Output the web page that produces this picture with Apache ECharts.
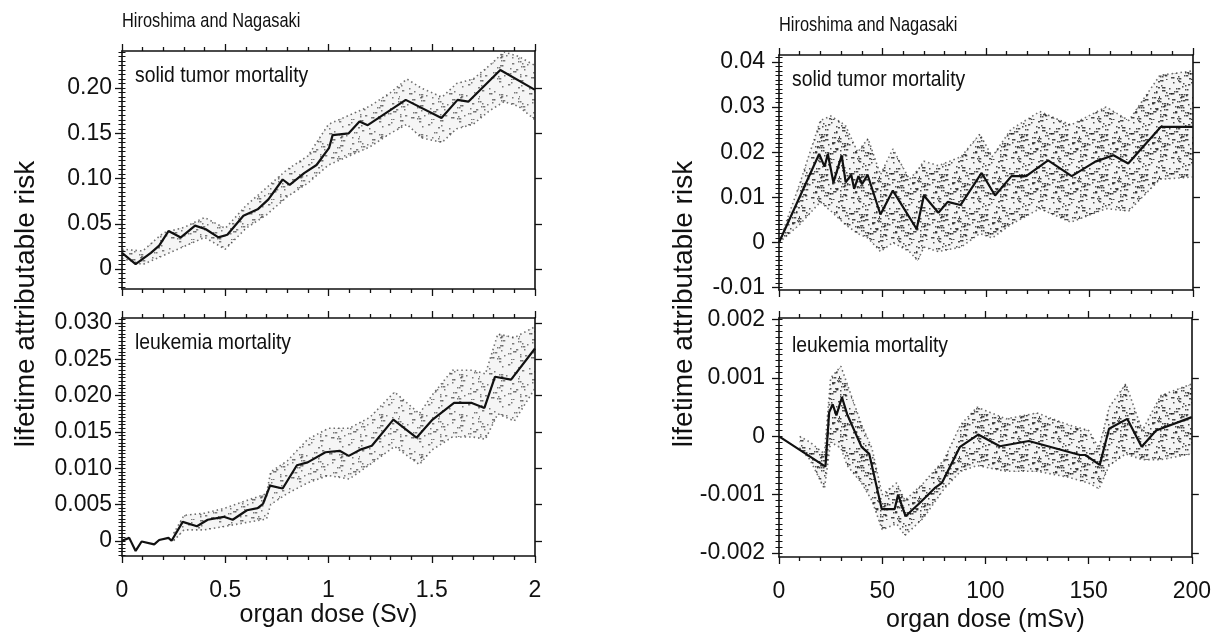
<!DOCTYPE html>
<html>
<head>
<meta charset="utf-8">
<script src="https://cdn.jsdelivr.net/npm/echarts@6/dist/echarts.min.js"></script>
<style>
  html, body { margin: 0; padding: 0; background: #fff; }
  #chart { width: 1214px; height: 638px; }
</style>
</head>
<body>
<div id="chart"></div>
<script>
// ---- values ----
// left column: organ dose in Sv
const svSolidDose = [0, 0.066, 0.14, 0.18, 0.225, 0.285, 0.354, 0.406, 0.467, 0.51, 0.588, 0.657, 0.709, 0.778, 0.812, 0.882, 0.942, 1.003, 1.02, 1.098, 1.15, 1.19, 1.374, 1.547, 1.625, 1.677, 1.832, 2.0];
const svSolidRisk = [0.018, 0.0055, 0.018, 0.026, 0.042, 0.035, 0.048, 0.044, 0.035, 0.038, 0.059, 0.066, 0.077, 0.099, 0.093, 0.106, 0.115, 0.134, 0.148, 0.150, 0.163, 0.159, 0.187, 0.167, 0.187, 0.185, 0.220, 0.198];
const svSolidBandDose = [0, 0.1, 0.2, 0.3, 0.4, 0.5, 0.6, 0.7, 0.8, 0.9, 1.0, 1.1, 1.2, 1.3, 1.38, 1.45, 1.55, 1.62, 1.7, 1.78, 1.85, 1.92, 2.0];
const svSolidUpper = [0.022, 0.02, 0.04, 0.046, 0.057, 0.045, 0.07, 0.09, 0.11, 0.125, 0.16, 0.17, 0.18, 0.195, 0.21, 0.2, 0.19, 0.205, 0.21, 0.225, 0.24, 0.235, 0.225];
const svSolidLower = [0.012, 0.005, 0.015, 0.025, 0.035, 0.022, 0.045, 0.06, 0.08, 0.095, 0.115, 0.125, 0.135, 0.15, 0.16, 0.145, 0.14, 0.155, 0.16, 0.175, 0.185, 0.18, 0.165];

const svLeukDose = [0, 0.035, 0.066, 0.095, 0.156, 0.18, 0.225, 0.24, 0.294, 0.363, 0.415, 0.493, 0.536, 0.605, 0.657, 0.683, 0.717, 0.778, 0.847, 0.899, 0.985, 1.054, 1.098, 1.158, 1.21, 1.314, 1.426, 1.504, 1.608, 1.694, 1.755, 1.806, 1.884, 2.0];
const svLeukRisk = [0, 0.0004, -0.0014, -0.0001, -0.0005, 0.0001, 0.0004, 0.0, 0.0026, 0.002, 0.0029, 0.0033, 0.0029, 0.0042, 0.0045, 0.0051, 0.0076, 0.0072, 0.0104, 0.0108, 0.0122, 0.0124, 0.0117, 0.0126, 0.0131, 0.0167, 0.0142, 0.0167, 0.019, 0.019, 0.0183, 0.0226, 0.0222, 0.0265];
const svLeukBandDose = [0.25, 0.3, 0.4, 0.5, 0.6, 0.7, 0.72, 0.8, 0.9, 1.0, 1.1, 1.2, 1.32, 1.44, 1.5, 1.6, 1.7, 1.76, 1.82, 1.9, 2.0];
const svLeukUpper = [0.001, 0.0035, 0.0038, 0.0045, 0.0055, 0.0065, 0.0095, 0.011, 0.014, 0.0155, 0.0155, 0.017, 0.0205, 0.0175, 0.02, 0.0235, 0.0235, 0.023, 0.0285, 0.028, 0.0295];
const svLeukLower = [0.0, 0.0015, 0.0015, 0.002, 0.0025, 0.003, 0.005, 0.0065, 0.008, 0.009, 0.0085, 0.0105, 0.013, 0.0105, 0.0125, 0.0143, 0.0143, 0.014, 0.0175, 0.0165, 0.021];

// right column: organ dose in mSv
const msvSolidDose = [0, 19.4, 22, 23.6, 26.3, 30.3, 32.2, 34.9, 36.3, 38.4, 40.1, 42.8, 49, 55, 66.5, 70, 77, 81.5, 87.7, 97.9, 104.4, 112.3, 119.4, 130, 141.4, 152.8, 161.6, 168.7, 184.5, 200];
const msvSolidRisk = [0, 0.0196, 0.0168, 0.0196, 0.0133, 0.0193, 0.0133, 0.015, 0.0119, 0.0147, 0.0129, 0.015, 0.0062, 0.0115, 0.003, 0.0104, 0.0066, 0.009, 0.0083, 0.0154, 0.0104, 0.0147, 0.0147, 0.0182, 0.0147, 0.0179, 0.0193, 0.0175, 0.0256, 0.0256];
const msvSolidBandDose = [0, 10, 20, 25, 32, 38, 43, 49, 55, 63, 67, 70, 77, 88, 97, 103, 112, 126, 141, 158, 169, 184, 200];
const msvSolidUpper = [0, 0.013, 0.027, 0.028, 0.026, 0.02, 0.023, 0.015, 0.0207, 0.014, 0.016, 0.018, 0.017, 0.019, 0.024, 0.019, 0.025, 0.029, 0.026, 0.030, 0.027, 0.037, 0.038];
const msvSolidLower = [0, 0.004, 0.009, 0.007, 0.004, 0.002, 0.001, -0.002, 0.0, -0.002, -0.004, -0.001, -0.002, -0.001, 0.002, 0.001, 0.004, 0.0075, 0.0045, 0.0075, 0.007, 0.014, 0.0145];

const msvLeukDose = [0, 22.5, 24.3, 26, 27.8, 30.5, 33, 40, 43.7, 49.8, 56, 57.7, 61.3, 68.3, 75.4, 78.9, 87.7, 96.5, 107, 121, 145.8, 148.4, 155.4, 159.9, 168.7, 175.7, 182.7, 200];
const msvLeukRisk = [0, -0.00052, 0.00041, 0.00055, 0.00036, 0.00067, 0.00038, -0.00018, -0.0003, -0.00125, -0.00125, -0.001, -0.00137, -0.00114, -0.00089, -0.0008, -0.00018, 0.00003, -0.00017, -0.00008, -0.00032, -0.00032, -0.00049, 0.00013, 0.0003, -0.00018, 0.0001, 0.00033];
const msvLeukBandDose = [10, 15, 22, 25, 30, 33, 40, 45, 50, 57, 61, 70, 80, 88, 96, 110, 125, 140, 150, 155, 160, 168, 176, 185, 200];
const msvLeukUpper = [0.0, -0.0001, -0.0003, 0.001, 0.0012, 0.0009, 0.0002, -0.0002, -0.001, -0.0008, -0.0011, -0.0008, -0.0004, 0.0002, 0.0005, 0.0003, 0.0004, 0.0002, 0.0001, -0.0002, 0.0005, 0.0009, 0.0001, 0.0007, 0.0009];
const msvLeukLower = [-0.0002, -0.0004, -0.0009, -0.0001, -0.0002, -0.0005, -0.0008, -0.0011, -0.0016, -0.0015, -0.0017, -0.0014, -0.0009, -0.0006, -0.0005, -0.0006, -0.0006, -0.0007, -0.0008, -0.0009, -0.0005, -0.0003, -0.0004, -0.0004, -0.0003];

// tick values and labels
const svTicks = [0, 0.5, 1, 1.5, 2];
const svTickLabels = ['0', '0.5', '1', '1.5', '2'];
const msvTicks = [0, 50, 100, 150, 200];
const msvTickLabels = ['0', '50', '100', '150', '200'];
const svSolidTicks = [0, 0.05, 0.1, 0.15, 0.2];
const svSolidTickLabels = ['0', '0.05', '0.10', '0.15', '0.20'];
const svLeukTicks = [0, 0.005, 0.01, 0.015, 0.02, 0.025, 0.03];
const svLeukTickLabels = ['0', '0.005', '0.010', '0.015', '0.020', '0.025', '0.030'];
const msvSolidTicks = [-0.01, 0, 0.01, 0.02, 0.03, 0.04];
const msvSolidTickLabels = ['-0.01', '0', '0.01', '0.02', '0.03', '0.04'];
const msvLeukTicks = [-0.002, -0.001, 0, 0.001, 0.002];
const msvLeukTickLabels = ['-0.002', '-0.001', '0', '0.001', '0.002'];

const INK = '#111';
const FONT = '"Liberation Sans", Arial, sans-serif';

function labelFor(values, labels) {
  return function (v) {
    const k = values.findIndex(t => Math.abs(t - v) < 1e-9);
    return k < 0 ? '' : labels[k];
  };
}

function zip(xs, ys) {
  return xs.map((x, i) => [x, ys[i]]);
}

// minor tick positions between min and max
function minorValues(min, max, step) {
  const out = [];
  const start = Math.ceil(min / step - 1e-9);
  for (let k = start; k * step <= max + 1e-12; k++) out.push(+(k * step).toFixed(8));
  return out;
}

// stipple texture for the uncertainty bands
function makeStipple(count, alpha) {
  const c = document.createElement('canvas');
  c.width = 40; c.height = 40;
  const g = c.getContext('2d');
  g.fillStyle = 'rgba(0,0,0,0.04)';
  g.fillRect(0, 0, 40, 40);
  g.fillStyle = 'rgba(20,20,20,' + alpha + ')';
  for (let i = 0; i < count; i++) {
    const x = (i * 17 + ((i * i) % 13)) % 40;
    const y = (i * 29 + ((i * 7) % 11)) % 40;
    g.fillRect(x, y, (i % 3) ? 1.5 : 2.3, 1.5);
  }
  return c;
}
const lightStipple = { image: makeStipple(60, 0.55), repeat: 'repeat' };
const darkStipple = { image: makeStipple(120, 0.75), repeat: 'repeat' };

const panels = [
  {
    grid: { left: 122, top: 51, width: 413, height: 238 },
    xMax: 2, xStep: 0.5, xTicks: svTicks, xLabels: svTickLabels, showX: false,
    yMin: -0.022, yMax: 0.241, yTicks: svSolidTicks, yLabels: svSolidTickLabels, yMinor: 0.005, yMargin: 10,
    dose: svSolidDose, risk: svSolidRisk,
    bandDose: svSolidBandDose, upper: svSolidUpper, lower: svSolidLower, fill: lightStipple
  },
  {
    grid: { left: 122, top: 318, width: 413, height: 238 },
    xMax: 2, xStep: 0.5, xTicks: svTicks, xLabels: svTickLabels, showX: true,
    xName: 'organ dose (Sv)', xNameGap: 38,
    yMin: -0.0021, yMax: 0.0307, yTicks: svLeukTicks, yLabels: svLeukTickLabels, yMinor: 0.0005, yMargin: 10,
    dose: svLeukDose, risk: svLeukRisk,
    bandDose: svLeukBandDose, upper: svLeukUpper, lower: svLeukLower, fill: lightStipple
  },
  {
    grid: { left: 779, top: 55, width: 414, height: 235 },
    xMax: 200, xStep: 50, xTicks: msvTicks, xLabels: msvTickLabels, showX: false,
    yMin: -0.0105, yMax: 0.0415, yTicks: msvSolidTicks, yLabels: msvSolidTickLabels, yMinor: 0.001, yMargin: 14,
    dose: msvSolidDose, risk: msvSolidRisk,
    bandDose: msvSolidBandDose, upper: msvSolidUpper, lower: msvSolidLower, fill: darkStipple
  },
  {
    grid: { left: 779, top: 318, width: 414, height: 239 },
    xMax: 200, xStep: 50, xTicks: msvTicks, xLabels: msvTickLabels, showX: true,
    xName: 'organ dose (mSv)', xNameGap: 51,
    yMin: -0.00207, yMax: 0.00203, yTicks: msvLeukTicks, yLabels: msvLeukTickLabels, yMinor: 0.0001, yMargin: 14,
    dose: msvLeukDose, risk: msvLeukRisk,
    bandDose: msvLeukBandDose, upper: msvLeukUpper, lower: msvLeukLower, fill: darkStipple
  }
];

const axisLine = { show: true, onZero: false, lineStyle: { color: INK, width: 1.6 } };
const tickStyle = { color: INK, width: 1.3 };

const grid = [], xAxis = [], yAxis = [], series = [];

panels.forEach((p, i) => {
  grid.push(p.grid);

  const xBase = {
    gridIndex: i, type: 'value', min: 0, max: p.xMax, interval: p.xStep,
    axisLine: axisLine,
    axisTick: { show: true, length: 7, lineStyle: tickStyle },
    minorTick: { show: true, splitNumber: 5, length: 4, lineStyle: tickStyle },
    splitLine: { show: false }
  };
  xAxis.push(Object.assign({}, xBase, {
    position: 'bottom',
    axisLabel: {
      show: p.showX, margin: 23, color: INK, fontSize: 23, fontFamily: FONT,
      formatter: labelFor(p.xTicks, p.xLabels)
    },
    name: p.xName || '', nameLocation: 'middle', nameGap: p.xNameGap || 0,
    nameTextStyle: { color: INK, fontSize: 25, fontFamily: FONT }
  }));
  xAxis.push(Object.assign({}, xBase, { position: 'top', axisLabel: { show: false } }));

  const minor = minorValues(p.yMin, p.yMax, p.yMinor);
  ['left', 'right'].forEach(side => {
    yAxis.push({
      gridIndex: i, type: 'value', position: side, min: p.yMin, max: p.yMax,
      axisLine: axisLine,
      axisTick: { show: true, length: 7, customValues: p.yTicks, lineStyle: tickStyle },
      axisLabel: {
        show: side === 'left', customValues: p.yTicks, margin: p.yMargin,
        color: INK, fontSize: 23, fontFamily: FONT,
        formatter: labelFor(p.yTicks, p.yLabels)
      },
      splitLine: { show: false }
    });
    yAxis.push({
      gridIndex: i, type: 'value', position: side, min: p.yMin, max: p.yMax,
      axisLine: { show: false },
      axisTick: { show: true, length: 3.5, customValues: minor, lineStyle: { color: INK, width: 1 } },
      axisLabel: { show: false },
      splitLine: { show: false }
    });
  });

  const xi = 2 * i, yi = 4 * i;

  // stippled uncertainty band
  series.push({
    type: 'custom', xAxisIndex: xi, yAxisIndex: yi, silent: true, clip: true,
    data: [[p.bandDose[0], p.lower[0]]],
    renderItem: function (params, api) {
      const pts = [];
      p.bandDose.forEach((d, k) => pts.push(api.coord([d, p.upper[k]])));
      for (let k = p.bandDose.length - 1; k >= 0; k--) pts.push(api.coord([p.bandDose[k], p.lower[k]]));
      return { type: 'polygon', shape: { points: pts }, style: { fill: p.fill, stroke: null } };
    },
    z: 1
  });
  // dotted band edges
  [p.upper, p.lower].forEach(edge => {
    series.push({
      type: 'line', xAxisIndex: xi, yAxisIndex: yi, data: zip(p.bandDose, edge),
      showSymbol: false, silent: true,
      lineStyle: { color: '#333', width: 1.6, type: [1.5, 3], opacity: 0.7 },
      z: 2
    });
  });
  // central estimate
  series.push({
    type: 'line', xAxisIndex: xi, yAxisIndex: yi, data: zip(p.dose, p.risk),
    showSymbol: false, silent: true,
    lineStyle: { color: INK, width: 2.2 },
    z: 3
  });
});

// condensed-looking text (the figure uses a narrow face)
function txt(x, y, text, size, squeeze) {
  return {
    type: 'text', x: x, y: y, scaleX: squeeze, silent: true,
    style: { text: text, fill: INK, fontSize: size, fontFamily: FONT, align: 'left', verticalAlign: 'middle' }
  };
}
function yName(x) {
  return {
    type: 'text', x: x, y: 304, rotation: Math.PI / 2, silent: true,
    style: { text: 'lifetime attributable risk', fill: INK, fontSize: 28, fontFamily: FONT, align: 'center', verticalAlign: 'middle' }
  };
}

const graphic = [
  txt(122, 21, 'Hiroshima and Nagasaki', 21, 0.78),
  txt(779, 25, 'Hiroshima and Nagasaki', 21, 0.78),
  txt(135, 76, 'solid tumor mortality', 22, 0.88),
  txt(792, 80, 'solid tumor mortality', 22, 0.88),
  txt(135, 343, 'leukemia mortality', 22, 0.88),
  txt(792, 346, 'leukemia mortality', 22, 0.88),
  yName(26),
  yName(684)
];

const chart = echarts.init(document.getElementById('chart'), null, { renderer: 'canvas' });
chart.setOption({
  backgroundColor: '#fff',
  animation: false,
  grid: grid,
  xAxis: xAxis,
  yAxis: yAxis,
  series: series,
  graphic: graphic
});
</script>
</body>
</html>
